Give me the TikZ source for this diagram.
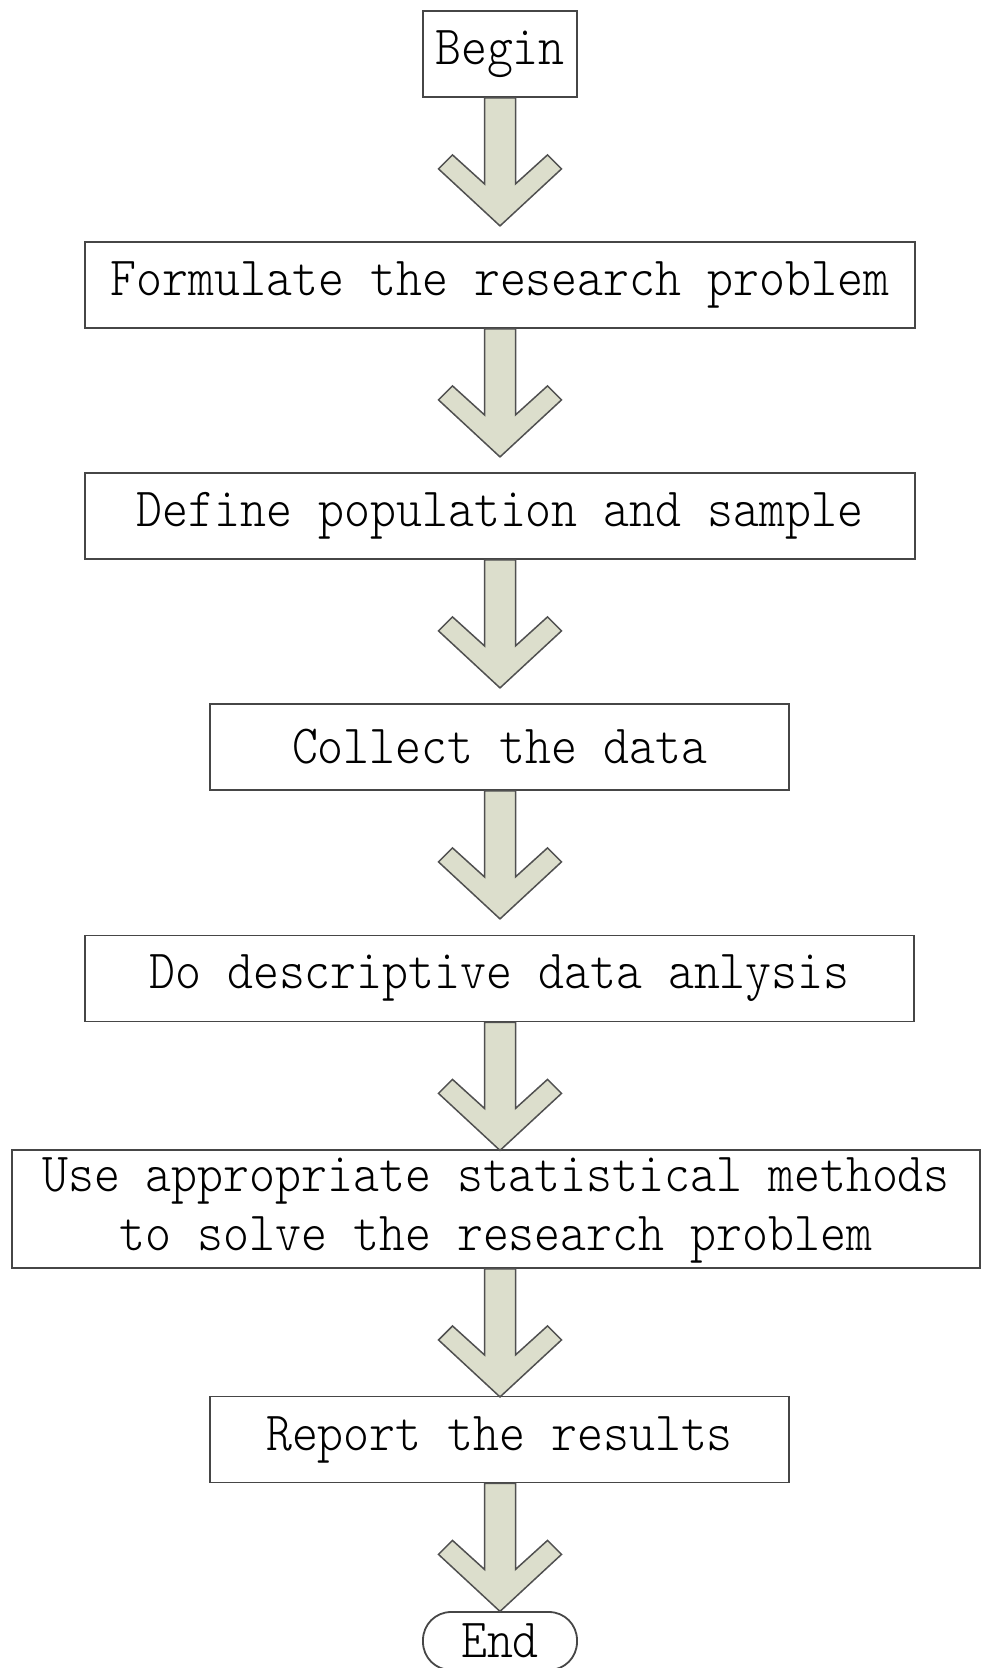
\documentclass[tikz,border=0pt]{standalone}
\usepackage{fontspec}
\usepackage{graphicx}
\newfontfamily\stepfont{Latin Modern Mono Light}
\definecolor{boxline}{RGB}{70,70,70}
\definecolor{arrowfill}{RGB}{220,222,204}
\definecolor{arrowline}{RGB}{80,80,80}
\newcommand\lbl[1]{\scalebox{1}[1.12]{#1}}
% block arrow hanging from the bottom of a step, on the common axis
\newcommand\flowarrow[1]{%
  \draw[bigarrow, shift={(begin.south |- #1.south)}]
    (-15.5,0) -- (-15.5,86) -- (-47.5,57) -- (-61.5,71) -- (0,128)
    -- (61.5,71) -- (47.5,57) -- (15.5,86) -- (15.5,0) -- cycle;}
\begin{document}
\begin{tikzpicture}[x=1pt, y=-1pt,
  stepbox/.style={draw=boxline, line width=1.8pt, fill=white, inner sep=0pt,
    minimum height=86pt, font=\stepfont\fontsize{49.4}{52.7}\selectfont},
  endbox/.style={stepbox, rounded corners=28pt},
  bigarrow/.style={fill=arrowfill, draw=arrowline, line width=1.5pt, line join=miter}]
\useasboundingbox (0,0) rectangle (982,1668);

\node[stepbox, minimum width=154pt] (begin) at (500,54) {\lbl{Begin}};
\node[stepbox, minimum width=830pt] (formulate) at (500,285) {\lbl{Formulate the research problem}};
\node[stepbox, minimum width=830pt] (define) at (500,516) {\lbl{Define population and sample}};
\node[stepbox, minimum width=579pt] (collect) at (499.5,747) {\lbl{Collect the data}};
\node[stepbox, minimum width=829pt] (describe) at (499.5,978.5) {\lbl{Do descriptive data anlysis}};
\node[stepbox, minimum width=968pt, minimum height=116pt] (methods) at (496,1209)
  {\lbl{\begin{tabular}{@{}c@{}}Use appropriate statistical methods\\to solve the research problem\end{tabular}}};
\node[stepbox, minimum width=579pt] (report) at (499.5,1439.5) {\lbl{Report the results}};
\node[endbox, minimum width=154pt, minimum height=58pt] (end) at (500,1641) {\lbl{End}};

\flowarrow{begin}
\flowarrow{formulate}
\flowarrow{define}
\flowarrow{collect}
\flowarrow{describe}
\flowarrow{methods}
\flowarrow{report}
\end{tikzpicture}
\end{document}
